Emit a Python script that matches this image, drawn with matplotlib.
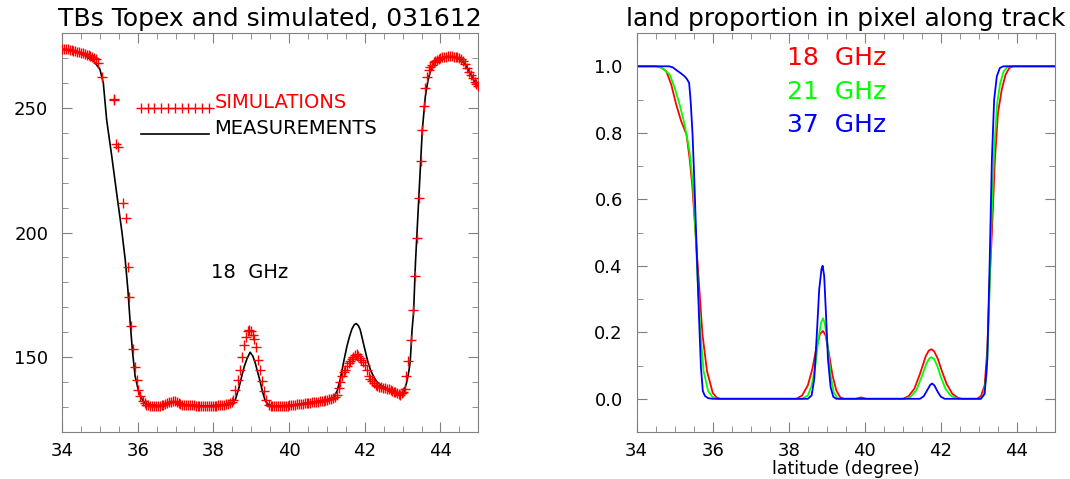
import matplotlib
matplotlib.use("Agg")
import matplotlib.pyplot as plt
from matplotlib.lines import Line2D
from matplotlib.legend_handler import HandlerLine2D
from matplotlib.ticker import MultipleLocator, FormatStrFormatter

# Left panel: simulated TBs (red crosses) and Topex measurements (black line), 18 GHz.
sim_lat = [34.00, 34.05, 34.10, 34.15, 34.20, 34.25, 34.30, 34.35, 34.40, 34.45,
           34.50, 34.55, 34.60, 34.65, 34.70, 34.75, 34.80, 34.85, 34.90, 34.96,
           35.05, 35.36, 35.38, 35.43, 35.49, 35.62, 35.68, 35.74, 35.78, 35.83,
           35.87, 35.93, 35.98, 36.02, 36.06, 36.13,
           36.18, 36.23, 36.28, 36.33, 36.38, 36.43, 36.48, 36.53, 36.58, 36.63,
           36.68, 36.73, 36.78, 36.83, 36.88, 36.93, 36.98, 37.03, 37.08, 37.13,
           37.18, 37.23, 37.28, 37.33, 37.38, 37.43, 37.48, 37.53, 37.58, 37.63,
           37.68, 37.73, 37.78, 37.83, 37.88, 37.93, 37.98, 38.03, 38.08, 38.13,
           38.18, 38.23, 38.28, 38.33, 38.38,
           38.44, 38.49, 38.53, 38.58, 38.64, 38.69, 38.75, 38.81, 38.86, 38.91,
           38.95, 39.00, 39.04, 39.08, 39.13, 39.18, 39.24, 39.28, 39.33, 39.39,
           39.46,
           39.51, 39.56, 39.61, 39.66, 39.71, 39.76, 39.81, 39.86, 39.91, 39.96,
           40.01, 40.06, 40.11, 40.16, 40.21, 40.26, 40.31, 40.36, 40.41, 40.46,
           40.51, 40.56, 40.61, 40.66, 40.71, 40.76, 40.81, 40.86, 40.91, 40.96,
           41.01, 41.06, 41.11, 41.16, 41.21, 41.26, 41.31, 41.35, 41.40, 41.45,
           41.49, 41.54, 41.58, 41.62, 41.66, 41.70, 41.75, 41.79, 41.83, 41.87,
           41.91, 41.95, 42.00, 42.05, 42.10, 42.15, 42.19, 42.24, 42.29, 42.33,
           42.38, 42.43, 42.48, 42.53, 42.58, 42.63, 42.68, 42.73, 42.77, 42.81,
           42.86, 42.90, 42.94, 42.98, 43.02, 43.05, 43.10, 43.15, 43.22, 43.28,
           43.32, 43.38, 43.44, 43.49, 43.52, 43.56, 43.60, 43.65, 43.69, 43.73,
           43.78, 43.82, 43.86, 43.91, 43.95, 44.00, 44.05, 44.10, 44.15, 44.20,
           44.25, 44.30, 44.35, 44.40, 44.45, 44.50, 44.55, 44.60, 44.65, 44.70,
           44.75, 44.80, 44.85, 44.90, 44.95, 45.00]
sim_tb = [273.7, 273.7, 273.6, 273.6, 273.4, 273.2, 273.0, 272.8, 272.5, 272.3,
          272.1, 271.9, 271.6, 271.3, 271.0, 270.8, 270.5, 270.1, 269.5, 267.9,
          262.5, 253.5, 253.0, 235.6, 234.3, 212.0, 206.0, 186.3, 174.0, 162.5,
          153.5, 146.0, 141.0, 137.0, 134.5, 132.5,
          131.5, 131.0, 130.8, 130.6, 130.5, 130.5, 130.5, 130.5, 130.6, 130.7,
          130.9, 131.2, 131.5, 131.9, 132.2, 132.4, 132.3, 132.0, 131.6, 131.2,
          131.0, 130.9, 130.8, 130.8, 130.8, 130.7, 130.7, 130.6, 130.6, 130.6,
          130.6, 130.5, 130.5, 130.5, 130.5, 130.5, 130.5, 130.6, 130.6, 130.7,
          130.8, 130.9, 131.0, 131.1, 131.2,
          131.5, 132.2, 133.0, 137.0, 141.0, 145.0, 150.0, 155.0, 158.0, 160.5,
          161.0, 160.5, 159.0, 157.5, 154.0, 149.0, 145.0, 140.5, 136.5, 133.0,
          131.0,
          130.5, 130.3, 130.3, 130.3, 130.3, 130.4, 130.4, 130.5, 130.5, 130.6,
          130.7, 130.8, 130.9, 131.0, 131.1, 131.2, 131.3, 131.4, 131.5, 131.6,
          131.7, 131.8, 131.9, 132.0, 132.1, 132.2, 132.3, 132.4, 132.6, 132.8,
          133.0, 133.2, 133.4, 133.6, 133.9, 135.0, 137.5, 140.0, 142.3, 144.0,
          145.0, 146.5, 147.5, 148.5, 149.3, 150.2, 151.0, 151.2, 150.5, 149.5,
          148.8, 148.0, 146.8, 144.8, 142.5, 141.3, 140.5, 139.7, 139.0, 138.5,
          138.2, 138.0, 137.8, 137.6, 137.4, 137.1, 136.8, 136.5, 136.2, 136.0,
          135.6, 135.2, 135.0, 135.5, 136.2, 137.2, 142.5, 148.5, 157.0, 169.0,
          182.5, 198.0, 214.0, 228.5, 241.0, 250.8, 258.0, 262.5, 265.0, 266.3,
          267.3, 268.2, 268.8, 269.3, 269.7, 270.0, 270.2, 270.4, 270.5, 270.6,
          270.6, 270.6, 270.5, 270.4, 270.2, 269.9, 269.4, 268.8, 267.5, 266.0,
          264.5, 263.0, 261.8, 260.5, 259.5, 258.8]

meas_lat = [34.0, 34.3, 34.6, 34.85, 35.0, 35.09, 35.18, 35.31, 35.45, 35.58,
            35.67, 35.74, 35.80, 35.86, 35.93, 36.02, 36.15, 36.3, 36.6, 36.8,
            36.95, 37.1, 37.3, 37.8, 38.3, 38.5, 38.58, 38.67, 38.75, 38.82,
            38.89, 38.97, 39.04, 39.1, 39.17, 39.24, 39.3, 39.37, 39.45, 39.6,
            40.0, 40.5, 41.0, 41.18, 41.27, 41.35, 41.44, 41.53, 41.6, 41.66,
            41.72, 41.77, 41.83, 41.88, 41.95, 42.02, 42.08, 42.15, 42.24, 42.33,
            42.45, 42.59, 42.72, 42.85, 42.95, 43.03, 43.1, 43.15, 43.2, 43.25,
            43.29, 43.34, 43.43, 43.52, 43.6, 43.67, 43.74, 43.82, 43.91, 44.05,
            44.18, 44.35, 44.5, 44.62, 44.75, 44.88, 45.0]
meas_tb = [273.5, 273.0, 271.0, 268.5, 265.5, 260.0, 245.0, 231.0, 215.0, 200.5,
           189.0, 177.0, 164.0, 152.5, 142.5, 136.5, 132.0, 131.0, 130.6, 131.4,
           132.2, 131.4, 130.8, 130.5, 130.9, 131.8, 133.0, 137.5, 142.5, 146.5,
           149.5, 152.0, 150.5, 148.0, 144.0, 140.0, 136.0, 132.5, 131.0, 130.4,
           130.7, 131.7, 133.0, 134.0, 136.5, 141.0, 148.0, 154.5, 158.5, 161.3,
           163.0, 163.5, 162.7, 161.0, 156.5, 152.0, 148.3, 145.0, 142.0, 140.0,
           138.5, 137.5, 136.3, 135.0, 135.0, 136.0, 139.5, 143.0, 148.0, 161.0,
           168.0, 188.0, 214.5, 241.0, 254.5, 261.0, 265.0, 267.8, 269.0, 270.0,
           270.5, 270.5, 269.8, 268.0, 265.0, 261.0, 258.5]

# Right panel: land proportion in pixel along track.
lat_18 = [34.0, 34.5, 34.65, 34.78, 34.91, 35.04, 35.17, 35.31, 35.39, 35.46,
          35.55, 35.64, 35.73, 35.85, 36.0, 36.1, 36.2, 38.2, 38.35, 38.5,
          38.62, 38.72, 38.82, 38.9, 38.97, 39.05, 39.15, 39.25, 39.35, 39.45,
          39.75, 39.9, 40.05, 41.0, 41.15, 41.3, 41.45, 41.6, 41.68, 41.75,
          41.82, 41.92, 42.02, 42.15, 42.3, 42.45, 42.55, 42.95, 43.05, 43.15,
          43.22, 43.28, 43.34, 43.42, 43.5, 43.6, 43.7, 43.8, 43.9, 45.0]
land_18 = [1.0, 1.0, 0.996, 0.985, 0.945, 0.885, 0.835, 0.795, 0.725, 0.645,
           0.495, 0.344, 0.194, 0.083, 0.018, 0.004, 0.0, 0.0, 0.01, 0.04,
           0.09, 0.15, 0.195, 0.204, 0.19, 0.14, 0.07, 0.025, 0.005, 0.0,
           0.0, 0.004, 0.0, 0.0, 0.008, 0.03, 0.075, 0.128, 0.145, 0.149,
           0.143, 0.12, 0.085, 0.045, 0.015, 0.003, 0.0, 0.0, 0.008, 0.04,
           0.15, 0.35, 0.5, 0.72, 0.86, 0.93, 0.975, 0.995, 1.0, 1.0]

lat_21 = [34.0, 34.55, 34.7, 34.87, 35.0, 35.13, 35.26, 35.39, 35.48, 35.55,
          35.61, 35.68, 35.76, 35.88, 36.0, 36.1, 38.35, 38.5, 38.6, 38.7,
          38.78, 38.85, 38.9, 38.95, 39.02, 39.1, 39.18, 39.27, 39.35, 41.05,
          41.2, 41.35, 41.5, 41.62, 41.7, 41.75, 41.82, 41.9, 42.0, 42.12,
          42.25, 42.4, 42.5, 43.05, 43.12, 43.2, 43.26, 43.32, 43.4, 43.48,
          43.56, 43.65, 43.75, 43.82, 45.0]
land_21 = [1.0, 1.0, 0.993, 0.975, 0.935, 0.885, 0.825, 0.745, 0.645, 0.495,
           0.344, 0.194, 0.083, 0.023, 0.005, 0.0, 0.0, 0.01, 0.04, 0.1,
           0.18, 0.23, 0.242, 0.225, 0.16, 0.07, 0.02, 0.003, 0.0, 0.0,
           0.006, 0.025, 0.068, 0.107, 0.122, 0.125, 0.12, 0.1, 0.065, 0.03,
           0.01, 0.002, 0.0, 0.0, 0.01, 0.07, 0.25, 0.5, 0.75, 0.89,
           0.95, 0.985, 0.998, 1.0, 1.0]

lat_37 = [34.0, 34.85, 34.95, 35.05, 35.15, 35.26, 35.32, 35.38, 35.42, 35.47,
          35.52, 35.58, 35.64, 35.69, 35.74, 35.8, 35.88, 36.0, 38.5, 38.6,
          38.67, 38.74, 38.8, 38.86, 38.89, 38.93, 38.98, 39.03, 39.1, 39.17,
          39.25, 41.45, 41.55, 41.65, 41.72, 41.77, 41.83, 41.92, 42.0, 42.1,
          43.05, 43.15, 43.22, 43.28, 43.34, 43.4, 43.47, 43.55, 43.64, 45.0]
land_37 = [1.0, 1.0, 0.997, 0.988, 0.98, 0.97, 0.962, 0.95, 0.895, 0.795,
           0.645, 0.44, 0.245, 0.095, 0.023, 0.008, 0.002, 0.0, 0.0, 0.01,
           0.06, 0.2, 0.33, 0.39, 0.40, 0.37, 0.25, 0.12, 0.035, 0.006,
           0.0, 0.0, 0.008, 0.028, 0.042, 0.046, 0.04, 0.02, 0.006, 0.0,
           0.0, 0.015, 0.12, 0.4, 0.72, 0.9, 0.97, 0.995, 1.0, 1.0]

freq_labels = ["18  GHz", "21  GHz", "37  GHz"]
freq_colors = ["#ff0000", "#00ff00", "#0000ff"]

spine_grey = "#808080"


# Legend handles drawn a little below the text centre, as in the IDL plot.
class LoweredLine(HandlerLine2D):
    def create_artists(self, legend, orig_handle, xdescent, ydescent,
                       width, height, fontsize, trans):
        return super().create_artists(legend, orig_handle, xdescent,
                                      ydescent + 0.7 * fontsize, width, height,
                                      fontsize, trans)


fig = plt.figure(figsize=(10.7, 4.79), dpi=100)
ax1 = fig.add_axes([0.058, 0.098, 0.389, 0.833])
ax2 = fig.add_axes([0.595, 0.098, 0.391, 0.833])


def style_axes(ax):
    for s in ax.spines.values():
        s.set_color(spine_grey)
    ax.tick_params(which="both", direction="in", top=True, right=True,
                   color=spine_grey, labelsize=13)
    ax.tick_params(axis="y", pad=10)
    ax.tick_params(axis="x", pad=7)
    ax.tick_params(which="major", length=7)
    ax.tick_params(which="minor", length=4)
    ax.xaxis.set_major_locator(MultipleLocator(2))
    ax.xaxis.set_minor_locator(MultipleLocator(0.5))


# Left panel
ax1.plot(meas_lat, meas_tb, color="black", lw=1.2, zorder=2)
ax1.plot(sim_lat, sim_tb, ls="none", marker="+", ms=7, mew=1.0,
         color="#ff0000", zorder=3)
ax1.set_xlim(34, 45)
ax1.set_ylim(120, 280)
style_axes(ax1)
ax1.yaxis.set_major_locator(MultipleLocator(50))
ax1.yaxis.set_minor_locator(MultipleLocator(10))
ax1.set_title("TBs Topex and simulated, 031612", fontsize=18, pad=5)
ax1.text(38.97, 184, "18  GHz", fontsize=14, ha="center", va="center")

handles = [Line2D([], [], ls="-", marker="+", ms=7, mew=1.0, lw=0.8, color="#ff0000"),
           Line2D([], [], ls="-", lw=1.2, color="black")]
leg = ax1.legend(handles, ["SIMULATIONS", "MEASUREMENTS"], loc="upper left",
                 bbox_to_anchor=(0.175, 0.85), frameon=False, fontsize=14,
                 handlelength=4.1, handletextpad=0.0, numpoints=11,
                 borderpad=0, borderaxespad=0, labelspacing=0.35,
                 handler_map={Line2D: LoweredLine()})
for txt, col in zip(leg.get_texts(), ["#ff0000", "black"]):
    txt.set_color(col)

# Right panel
ax2.plot(lat_18, land_18, color=freq_colors[0], lw=1.3)
ax2.plot(lat_21, land_21, color=freq_colors[1], lw=1.3)
ax2.plot(lat_37, land_37, color=freq_colors[2], lw=1.3)
ax2.set_xlim(34, 45)
ax2.set_ylim(-0.1, 1.1)
style_axes(ax2)
ax2.yaxis.set_major_locator(MultipleLocator(0.2))
ax2.yaxis.set_minor_locator(MultipleLocator(0.1))
ax2.yaxis.set_major_formatter(FormatStrFormatter("%.1f"))
ax2.set_title("land proportion in pixel along track", fontsize=18, pad=5)
ax2.set_xlabel("latitude (degree)", fontsize=12.5)
ax2.xaxis.set_label_coords(0.5, -0.071)
for i, (lab, col) in enumerate(zip(freq_labels, freq_colors)):
    ax2.text(39.26, 1.024 - 0.1 * i, lab, color=col, fontsize=18,
             ha="center", va="center")

fig.savefig("out.png", dpi=100)
